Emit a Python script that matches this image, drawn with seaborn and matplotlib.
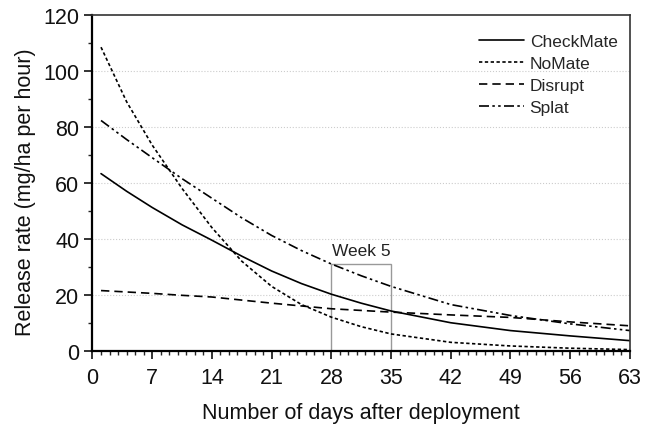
import matplotlib
matplotlib.use("Agg")
import matplotlib.pyplot as plt
from matplotlib.patches import Rectangle
from matplotlib.ticker import MultipleLocator
import seaborn as sns
import pandas as pd

# Valores
dias = [1, 4, 7, 10.5, 14, 17.5, 21, 24.5, 28, 31.5, 35, 42, 49, 56, 63]
checkmate = [63.3, 57.0, 51.2, 45.0, 39.5, 33.8, 28.5, 24.0, 20.2, 17.0, 14.2, 10.0, 7.2, 5.3, 3.6]
nomate = [108.5, 89.0, 73.5, 58.0, 44.0, 32.0, 23.0, 16.5, 12.0, 8.6, 6.0, 3.0, 1.7, 0.9, 0.4]
disrupt = [21.5, 21.0, 20.5, 19.8, 19.2, 18.1, 17.0, 16.0, 15.0, 14.4, 13.8, 12.8, 11.9, 10.3, 8.9]
splat = [82.3, 75.5, 69.0, 61.5, 54.5, 47.5, 41.2, 35.8, 31.0, 26.8, 23.0, 16.5, 12.6, 9.6, 7.2]

series = ["CheckMate", "NoMate", "Disrupt", "Splat"]
valores = [checkmate, nomate, disrupt, splat]
estilos = ["-", (0, (2, 1.5)), (0, (5, 3)), (0, (6, 2, 1.5, 2, 1.5, 2))]

df = pd.concat(
    [pd.DataFrame({"dia": dias, "tasa": v, "producto": s}) for s, v in zip(series, valores)],
    ignore_index=True,
)

sns.set_theme(style="ticks")
plt.rcParams["font.family"] = ["Liberation Sans", "DejaVu Sans"]

fig = plt.figure(figsize=(6.5, 4.27), dpi=100)
ax = fig.add_axes([0.1423, 0.1763, 0.8267, 0.7862])

for s, ls in zip(series, estilos):
    sns.lineplot(data=df[df["producto"] == s], x="dia", y="tasa", ax=ax,
                 color="black", linewidth=1.2, linestyle=ls, label=s)

# Recuadro semana 5
ax.add_patch(Rectangle((28, 0), 7, 31, fill=False, edgecolor="#999999", linewidth=1.0, zorder=1))
ax.text(31.5, 33.3, "Week 5", ha="center", va="bottom", fontsize=12.5, color="#222222")

ax.set_xlim(0, 63)
ax.set_ylim(0, 120)
ax.xaxis.set_major_locator(MultipleLocator(7))
ax.xaxis.set_minor_locator(MultipleLocator(1))
ax.yaxis.set_major_locator(MultipleLocator(20))
ax.yaxis.set_minor_locator(MultipleLocator(10))
ax.tick_params(which="major", direction="out", length=6, width=1.2, labelsize=15.5, colors="#111111")
ax.tick_params(axis="x", which="major", pad=6)
ax.tick_params(which="minor", direction="out", length=3, width=1.0)
for y in [20, 40, 60, 80, 100]:
    ax.axhline(y, color="#cccccc", linestyle=":", linewidth=0.8, zorder=0)

ax.set_xlabel("Number of days after deployment", fontsize=15.5, labelpad=10, color="#111111")
ax.set_ylabel("Release rate (mg/ha per hour)", fontsize=15.5, color="#111111")
ax.yaxis.set_label_coords(-0.106, 0.475)

for lado in ["left", "bottom"]:
    ax.spines[lado].set_linewidth(1.6)
    ax.spines[lado].set_color("black")
for lado in ["top", "right"]:
    ax.spines[lado].set_linewidth(1.2)
    ax.spines[lado].set_color("#333333")

ax.legend(loc="upper right", bbox_to_anchor=(0.99, 0.965), frameon=False, fontsize=12.5,
          handlelength=2.6, handletextpad=0.3, labelspacing=0.4, borderaxespad=0)

fig.savefig("out.png", dpi=100)
plt.close()
